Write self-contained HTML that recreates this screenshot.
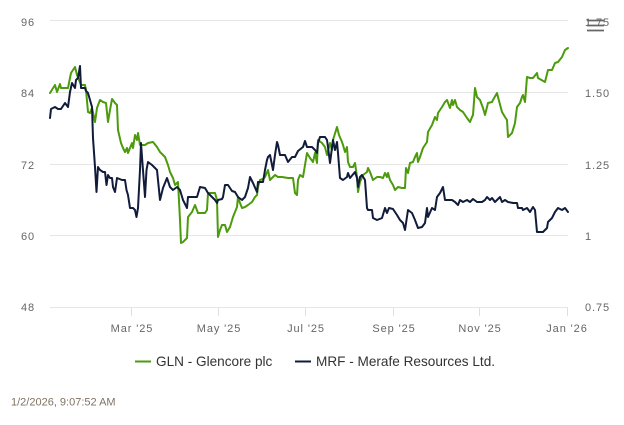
<!DOCTYPE html>
<html>
<head>
<meta charset="utf-8">
<style>
html,body{margin:0;padding:0;background:#fff;}
body{width:624px;height:425px;overflow:hidden;position:relative;font-family:"Liberation Sans",Arial,sans-serif;}
svg{position:absolute;left:0;top:0;}
</style>
</head>
<body>
<svg width="624" height="425" viewBox="0 0 624 425" xmlns="http://www.w3.org/2000/svg">
  <rect width="624" height="425" fill="#ffffff"/>
  <!-- grid -->
  <g stroke="#e6e6e6" stroke-width="1">
    <line x1="50" y1="20.5" x2="568" y2="20.5"/>
    <line x1="50" y1="92.5" x2="568" y2="92.5"/>
    <line x1="50" y1="164.5" x2="568" y2="164.5"/>
    <line x1="50" y1="235.5" x2="568" y2="235.5"/>
    <line x1="50" y1="307.5" x2="568" y2="307.5"/>
  </g>
  <!-- x ticks -->
  <g stroke="#e0e0e0" stroke-width="1">
    <line x1="131.5" y1="307" x2="131.5" y2="316"/>
    <line x1="218.5" y1="307" x2="218.5" y2="316"/>
    <line x1="305.5" y1="307" x2="305.5" y2="316"/>
    <line x1="393.5" y1="307" x2="393.5" y2="316"/>
    <line x1="479.5" y1="307" x2="479.5" y2="316"/>
    <line x1="567.5" y1="307" x2="567.5" y2="316"/>
  </g>
  <!-- left labels -->
  <g font-family="Liberation Sans, Arial, sans-serif" font-size="11" fill="#666666" text-anchor="end" letter-spacing="0.9">
    <text x="35" y="26">96</text>
    <text x="35" y="97">84</text>
    <text x="35" y="169">72</text>
    <text x="35" y="240">60</text>
    <text x="35" y="311">48</text>
  </g>
  <!-- right labels -->
  <g font-family="Liberation Sans, Arial, sans-serif" font-size="11" fill="#666666" letter-spacing="0.9">
    <text x="585" y="26">1.75</text>
    <text x="585" y="97">1.50</text>
    <text x="585" y="169">1.25</text>
    <text x="585" y="240">1</text>
    <text x="585" y="311">0.75</text>
  </g>
  <!-- x labels -->
  <g font-family="Liberation Sans, Arial, sans-serif" font-size="11" fill="#666666" text-anchor="middle" letter-spacing="0.9">
    <text x="132" y="332">Mar '25</text>
    <text x="219" y="332">May '25</text>
    <text x="306" y="332">Jul '25</text>
    <text x="394" y="332">Sep '25</text>
    <text x="480" y="332">Nov '25</text>
    <text x="567" y="332">Jan '26</text>
  </g>
  <!-- menu icon -->
  <g stroke="#666666" stroke-width="1.8">
    <line x1="587" y1="20.5" x2="604" y2="20.5"/>
    <line x1="587" y1="25.5" x2="604" y2="25.5"/>
    <line x1="587" y1="30.5" x2="604" y2="30.5"/>
  </g>
  <!-- GLN series -->
  <polyline fill="none" stroke="#4b9b0c" stroke-width="2" stroke-linejoin="round" stroke-linecap="round"
    points="50,93 55,85 57,92 60,84 61,88 68,88 71,73 75,67 77,75 79,80 81,85 85,85 86,90 88,112 90,113 92,108 94,117 95,122 97,108 100,100 103,102 106,103 108,122 110,110 112,99 115,103 117,105 118,130 121,143 123,148 125,152 127,148 128,153 132,143 133,148 135,135 137,140 138,133 140,145 145,145 148,143 153,142 157,147 160,152 165,157 168,165 170,172 173,178 175,185 178,182 180,220 181,243 183,242 187,238 188,217 192,212 195,205 198,213 205,213 207,210 208,193 215,193 217,200 218,237 220,230 222,225 225,225 227,232 230,227 233,217 237,207 238,197 240,203 242,208 245,207 248,205 252,202 255,197 257,195 258,187 260,180 263,179 265,177 268,170 270,180 275,175 278,177 282,177 288,178 293,178 295,193 297,195 298,180 300,175 303,177 307,153 310,158 313,162 315,153 317,163 318,140 322,143 325,147 327,155 330,143 332,150 333,140 337,127 339,135 342,142 343,145 345,152 347,147 348,162 350,167 353,167 355,163 357,177 358,192 360,182 363,175 367,172 368,168 370,172 373,180 377,177 380,177 383,178 385,173 387,177 388,173 390,180 393,185 395,190 398,187 402,188 405,188 406,168 408,173 410,163 413,162 415,157 417,153 418,162 420,157 423,148 427,142 428,132 432,125 435,117 437,120 438,113 442,107 445,102 447,100 450,108 452,100 453,105 455,100 457,107 460,110 463,112 467,118 470,122 472,117 473,115 475,88 477,97 480,100 483,108 485,115 488,103 492,102 493,100 497,93 498,97 502,112 505,117 507,120 508,137 512,133 515,123 517,107 520,103 522,97 523,95 525,102 527,77 530,78 533,78 537,73 538,78 545,82 548,70 552,70 555,63 558,62 562,57 565,50 568,48"/>
  <!-- MRF series -->
  <polyline fill="none" stroke="#111c3b" stroke-width="2" stroke-linejoin="round" stroke-linecap="round"
    points="50,118 51,109 55,107 58,109 61,109 65,103 68,107 70,92 72,83 75,88 76,80 78,78 80,66 81,88 85,88 86,91 88,93 90,100 92,107 93,138 95,167 96.5,192 98,167 100,170 103,172 105,172 106.5,185 108,175 110,178 112,178 113,187 115,192 117,178 122,180 125,180 126.5,190 128,195 130,208 133,208 135,210 136.5,217 138,208 140,170 141,143 142,157 145,197 146.5,170 148,162 152,165 155,168 157,170 160,200 163,188 167,178 170,187 173,190 177,187 180,190 183,200 187,208 188,197 192,197 197,197 200,187 205,188 208,193 212,197 215,200 217,203 218,200 222,199 223,197 225,185 228,185 232,191 235,192 238,197 242,200 245,197 248,188 250,177 253,183 257,192 258,182 263,182 265,170 267,160 268,157 270,155 272,165 273,170 275,155 277,142 278,145 280,155 285,155 288,162 292,157 295,157 298,151 303,147 305,141 307,147 312,147 315,150 317,153 318,143 320,137 325,137 327,140 328,147 330,163 333,140 335,150 337,142 338,153 340,178 343,180 347,177 348,173 350,178 355,172 357,178 358,187 360,177 362,175 365,180 367,208 368,210 372,210 373,218 377,220 382,218 385,208 387,213 389,208 393,209 397,215 400,220 403,223 405,230 408,210 412,213 415,220 418,228 422,227 425,223 427,208 428,217 432,208 435,210 437,197 440,193 443,187 445,200 452,200 455,202 458,205 460,200 463,202 467,200 470,202 473,199 477,202 482,202 485,200 487,197 490,200 492,198 495,202 500,197 502,202 505,200 508,202 513,203 517,203 518,208 522,208 523,210 527,208 530,212 533,207 535,210 537,232 540,232 543,232 547,228 548,222 552,218 555,212 558,208 562,210 565,208 568,212"/>
  <!-- legend -->
  <line x1="135" y1="361.5" x2="151" y2="361.5" stroke="#4b9b0c" stroke-width="2"/>
  <text x="156" y="366" font-family="Liberation Sans, Arial, sans-serif" font-size="13.6" fill="#333333">GLN - Glencore plc</text>
  <line x1="295" y1="361.5" x2="311" y2="361.5" stroke="#111c3b" stroke-width="2"/>
  <text x="316" y="366" font-family="Liberation Sans, Arial, sans-serif" font-size="13.6" fill="#333333">MRF - Merafe Resources Ltd.</text>
  <!-- timestamp -->
  <text x="11" y="405.5" font-family="Liberation Sans, Arial, sans-serif" font-size="11" fill="#7f7262">1/2/2026, 9:07:52 AM</text>
</svg>
</body>
</html>
